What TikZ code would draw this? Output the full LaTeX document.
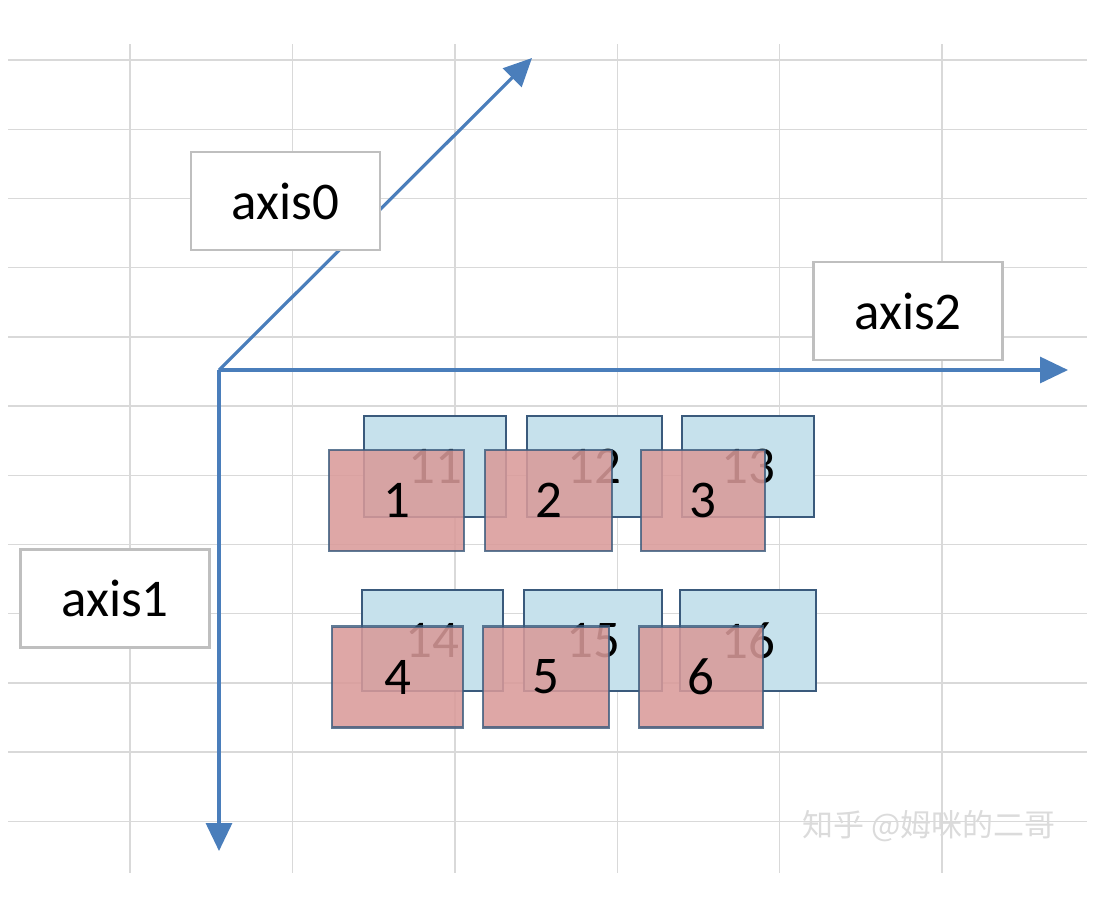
\documentclass[tikz,border=0pt]{standalone}
\usepackage{fontspec}
\setmainfont{Carlito}
\newfontfamily\cjk{Noto Sans CJK SC}
\usetikzlibrary{arrows.meta}
\definecolor{gridgray}{HTML}{D9D9D9}
\definecolor{axisblue}{HTML}{4A7EBB}
\definecolor{labgray}{HTML}{BFBFBF}
\definecolor{backblue}{HTML}{C6E1EC}
\definecolor{frontred}{HTML}{D99A99}
\definecolor{boxedge}{HTML}{3A5A7C}
\tikzset{
  gridline/.style={draw=gridgray, line width=1.4pt},
  axisline/.style={draw=axisblue, line width=3.2pt, -{Triangle[length=28pt,width=26pt]}},
  axislabel/.style={draw=labgray, fill=white, line width=2.6pt, minimum width=189pt, minimum height=98pt, inner sep=0pt, font=\fontsize{53}{60}\selectfont},
  backbox/.style={draw=boxedge, fill=backblue, line width=2.8pt, minimum height=101pt, inner sep=0pt, font=\fontsize{53}{60}\selectfont},
  frontbox/.style={draw=boxedge, fill=frontred, fill opacity=0.87, draw opacity=0.8, text opacity=1, line width=2.8pt, minimum height=101pt, inner sep=0pt, font=\fontsize{53}{60}\selectfont},
  mark text/.style={text=gray!28, font=\cjk\fontsize{31}{34}\selectfont}
}
\begin{document}
\begin{tikzpicture}[x=1pt,y=-1pt]
\useasboundingbox (0,0) rectangle (1102,903);
% grid
\foreach \k in {0,...,11} {
  \draw[gridline] (8,{60+69.2*\k}) -- (1087,{60+69.2*\k});
}
\foreach \k in {0,...,5} {
  \draw[gridline] ({130+162.4*\k},44) -- ({130+162.4*\k},873);
}
% axes
\coordinate (O) at (219,370);
\coordinate (t0) at (532,58);
\coordinate (t1) at (219,851);
\coordinate (t2) at (1068,370);
\draw[axisline] (O) -- (t0);
\draw[axisline] (O) -- (t1);
\draw[axisline] (O) -- (t2);
% axis labels
\node[axislabel] (a0) at (285.5,201) {axis0};
\node[axislabel] (a1) at (115,598.5) {axis1};
\node[axislabel] (a2) at (908,311) {axis2};
% back boxes
\node[backbox, minimum width=142pt] (b11) at (435,466.5) {11};
\node[backbox, minimum width=135pt] (b12) at (594.5,466.5) {12};
\node[backbox, minimum width=132pt] (b13) at (748,466.5) {13};
\node[backbox, minimum width=141pt] (b14) at (432.5,640.5) {14};
\node[backbox, minimum width=138pt] (b15) at (593,640.5) {15};
\node[backbox, minimum width=136pt] (b16) at (748,640.5) {16};
% front boxes
\node[frontbox, minimum width=135pt] (r1) at (396.5,500.5) {1};
\node[frontbox, minimum width=127pt] (r2) at (548.5,500.5) {2};
\node[frontbox, minimum width=124pt] (r3) at (703,500.5) {3};
\node[frontbox, minimum width=131pt] (r4) at (397.5,677) {4};
\node[frontbox, minimum width=126pt] (r5) at (546,677) {5};
\node[frontbox, minimum width=124pt] (r6) at (701,677) {6};
% watermark
\node[mark text] (wm) at (929,826) {知乎 @姆咪的二哥};
\end{tikzpicture}
\end{document}
